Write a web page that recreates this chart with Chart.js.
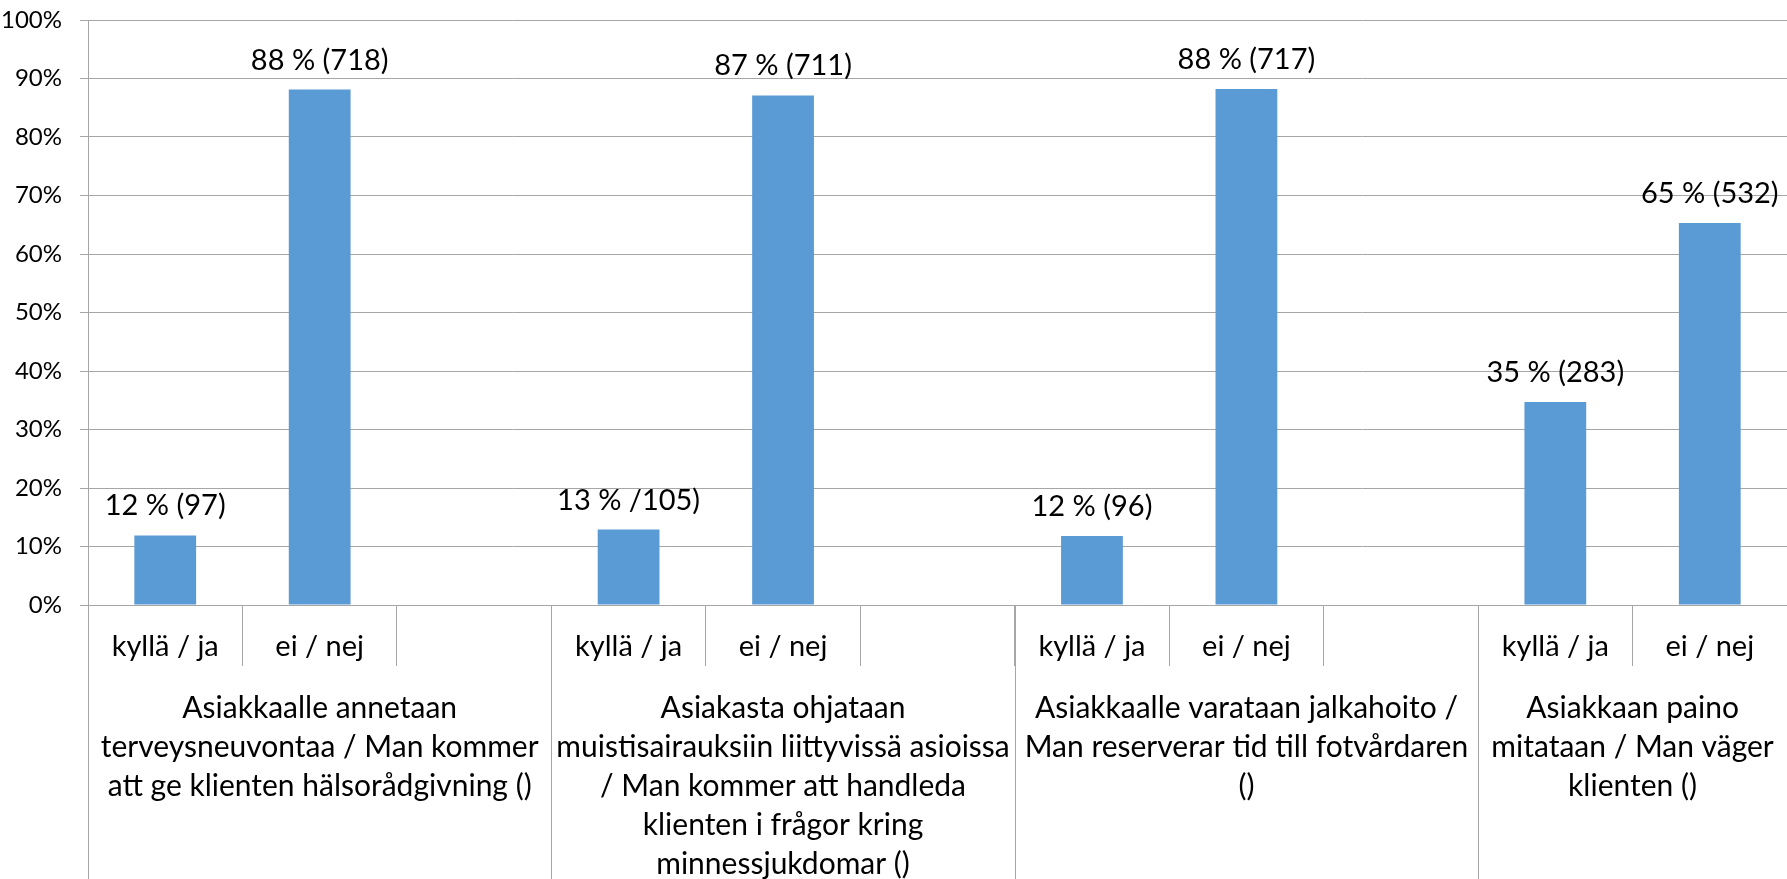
<!DOCTYPE html>
<html>
<head>
<meta charset="utf-8">
<title>Asiakkaan palvelut</title>
<script src="https://cdn.jsdelivr.net/npm/chart.js@4/dist/chart.umd.min.js"></script>
<style>
  html, body { margin: 0; padding: 0; background: #fff; }
  #wrap { width: 1787px; height: 879px; position: relative; }
</style>
</head>
<body>
<div id="wrap"><canvas id="surveyChart"></canvas></div>
<script>
// ========== Data ==========
const categories = ["kyllä / ja", "ei / nej", "", "kyllä / ja", "ei / nej", "", "kyllä / ja", "ei / nej", "", "kyllä / ja", "ei / nej"];
const percentValues = [11.9, 88.1, null, 12.9, 87.1, null, 11.8, 88.2, null, 34.7, 65.3];
const valueLabels = ["12 % (97)", "88 % (718)", "", "13 % /105)", "87 % (711)", "", "12 % (96)", "88 % (717)", "", "35 % (283)", "65 % (532)"];
const groupSpans = [3, 3, 3, 2];
const groupLabels = [
  ["Asiakkaalle annetaan", "terveysneuvontaa / Man kommer", "att ge klienten hälsorådgivning ()"],
  ["Asiakasta ohjataan", "muistisairauksiin liittyvissä asioissa", "/ Man kommer att handleda", "klienten i frågor kring", "minnessjukdomar ()"],
  ["Asiakkaalle varataan jalkahoito /", "Man reserverar tid till fotvårdaren", "()"],
  ["Asiakkaan paino", "mitataan / Man väger", "klienten ()"]
];
const yTickLabels = ["0%", "10%", "20%", "30%", "40%", "50%", "60%", "70%", "80%", "90%", "100%"];

const barColor = "#5B9BD5";
const lineColor = "#A6A6A6";
const labelFont = "29px Lato";
const groupFont = "30px Lato";

// ========== Labels above bars ==========
const barValueLabels = {
  id: "barValueLabels",
  afterDatasetsDraw(chart) {
    const ctx = chart.ctx;
    const meta = chart.getDatasetMeta(0);
    ctx.save();
    ctx.font = labelFont;
    ctx.fillStyle = "#000";
    ctx.textAlign = "center";
    ctx.textBaseline = "alphabetic";
    meta.data.forEach(function (bar, i) {
      if (percentValues[i] == null || !valueLabels[i]) return;
      ctx.fillText(valueLabels[i], bar.x, bar.y - 20);
    });
    ctx.restore();
  }
};

// ========== Two-level category axis ==========
const multiLevelAxis = {
  id: "multiLevelAxis",
  afterDraw(chart) {
    const ctx = chart.ctx;
    const xs = chart.scales.x;
    const area = chart.chartArea;
    const half = (xs.getPixelForValue(1) - xs.getPixelForValue(0)) / 2;

    ctx.save();
    ctx.fillStyle = "#000";
    ctx.textAlign = "center";
    ctx.textBaseline = "middle";

    // inner row
    ctx.font = labelFont;
    categories.forEach(function (c, i) {
      if (c) ctx.fillText(c, xs.getPixelForValue(i), area.bottom + 42);
    });

    // outer row: long dividers + wrapped group labels
    ctx.font = groupFont;
    ctx.strokeStyle = lineColor;
    ctx.lineWidth = 1;
    let start = 0;
    groupSpans.forEach(function (span, g) {
      const left = xs.getPixelForValue(start) - half;
      const right = xs.getPixelForValue(start + span - 1) + half;
      const lx = Math.round(left) + 0.5;
      ctx.beginPath();
      ctx.moveTo(lx, area.bottom);
      ctx.lineTo(lx, chart.height);
      ctx.stroke();

      const cx = (left + right) / 2;
      groupLabels[g].forEach(function (line, k) {
        ctx.fillText(line, cx, area.bottom + 103 + k * 39);
      });
      start += span;
    });
    ctx.restore();
  }
};

// ========== Chart ==========
const ctx1 = document.getElementById("surveyChart").getContext("2d");
new Chart(ctx1, {
  type: "bar",
  data: {
    labels: categories,
    datasets: [
      {
        data: percentValues,
        backgroundColor: barColor,
        borderWidth: 0,
        barPercentage: 0.4,
        categoryPercentage: 1
      }
    ]
  },
  options: {
    responsive: true,
    maintainAspectRatio: false,
    animation: false,
    layout: { padding: { top: 20, right: 0, bottom: 0, left: 0 } },
    plugins: {
      legend: { display: false },
      tooltip: { enabled: false }
    },
    scales: {
      x: {
        offset: true,
        afterFit: function (s) {
          s.height = 274;
          s.paddingLeft = 0;
          s.paddingRight = 0;
        },
        grid: {
          offset: true,
          drawOnChartArea: false,
          drawTicks: true,
          tickLength: 61,
          color: lineColor
        },
        border: { display: true, color: lineColor },
        ticks: { display: false }
      },
      y: {
        min: 0,
        max: 100,
        afterFit: function (s) {
          s.width = 88;
          s.paddingTop = 0;
          s.paddingBottom = 0;
        },
        grid: { color: lineColor, tickLength: 8 },
        border: { display: true, color: lineColor },
        ticks: {
          stepSize: 10,
          padding: 18,
          color: "#000",
          font: { family: "Lato", size: 24 },
          callback: function (v, i) { return yTickLabels[i]; }
        }
      }
    }
  },
  plugins: [barValueLabels, multiLevelAxis]
});
</script>
</body>
</html>
